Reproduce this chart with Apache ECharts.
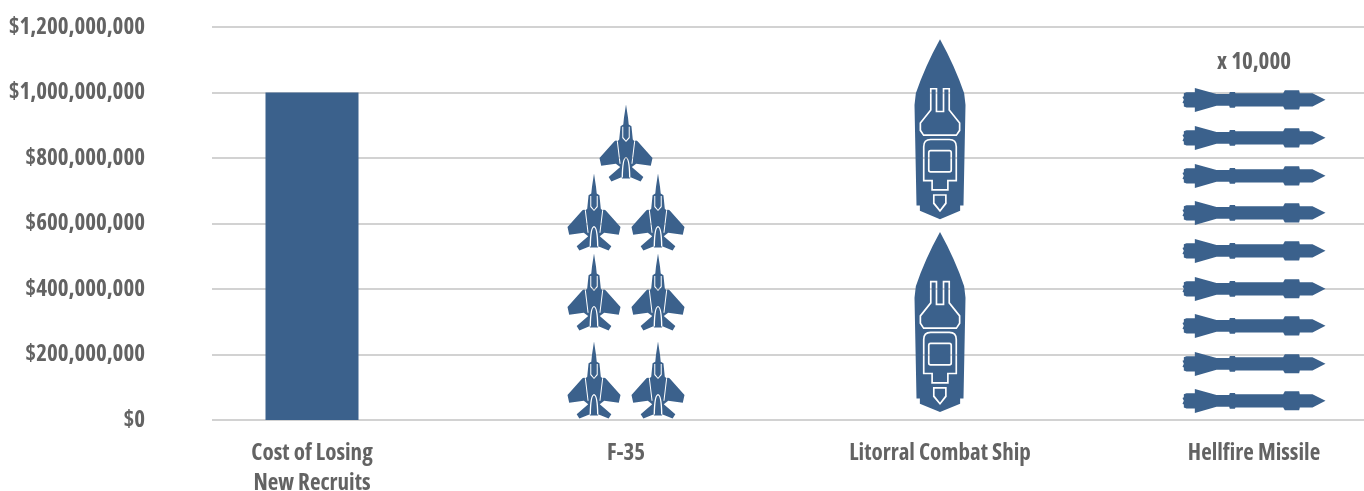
<!DOCTYPE html>
<html>
<head>
<meta charset="utf-8">
<style>html,body{margin:0;padding:0;background:#fff}#chart{width:1364px;height:491px}</style>
<script src="https://cdn.jsdelivr.net/npm/echarts@6/dist/echarts.min.js"></script>
</head>
<body>
<div id="chart"></div>
<script>
const categories = ['Cost of Losing\nNew Recruits', 'F-35', 'Litorral Combat Ship', 'Hellfire Missile'];
const yTicks = [0, 200000000, 400000000, 600000000, 800000000, 1000000000, 1200000000];
const recruitCost = [1000000000];
const f35PairRows = [122000000, 391000000, 635000000];
const f35Single = [846000000];
const shipRows = [299000000, 888000000];
const missileRows = [58000000, 171000000, 287000000, 400000000, 516000000, 632000000, 745000000, 861000000, 977000000];
const missileNote = 'x 10,000';
const missileNoteValue = 1093000000;

const BLUE = '#3b618c', GRID = '#d2d2d2', TEXT = '#636363';
const FONT = '"Open Sans"';
const textStyle = { color: TEXT, fontFamily: FONT, fontStyle: 'condensed', fontWeight: 'bold', fontSize: 23 };

const planePath = 'path://' +
  'M228 45L234 85L236 105L244 110L248 150L252 154L258 153L262 155L306 205L301 228L258 222L245 232L279 262L271 275L240 262L240 266L216 266L216 262L185 275L177 262L211 232L198 222L155 228L150 205L194 155L198 153L204 154L208 150L212 110L220 105L222 85Z' +
  'M217 112L217 145L228 157L239 145L239 112L236 112L236 143L228 153L220 143L220 112Z' +
  'M201 155L209 222L212 222L204 155Z' +
  'M252 155L244 222L247 222L255 155Z' +
  'M241 263Q240 203 228 202Q216 203 215 263L219 263Q220 207 228 206Q236 207 237 263Z';

const shipPath = 'path://' +
  'M150 28Q195 110 222 190L226 225L220 526L210 526L210 542L150 567L90 542L90 526L80 526L74 225L78 190Q105 110 150 28Z' +
  'M120 174L120 239L89 278L89 302L100 318L200 318L211 302L211 278L180 239L180 174L158 174L158 242L142 242L142 174Z' +
  'M125 179L137 179L137 247L163 247L163 179L175 179L175 241L206 280L206 300L198 313L102 313L94 300L94 280L125 241Z' +
  'M99 350L99 454L124 454L124 482L176 482L176 454L201 454L201 350Q201 326 178 326L122 326Q99 326 99 350Z' +
  'M104 350Q104 331 122 331L178 331Q196 331 196 350L196 449L171 449L171 477L129 477L129 449L104 449Z' +
  'M114 368L114 420Q114 428 122 428L178 428Q186 428 186 420L186 368Q186 359 178 359L122 359Q114 359 114 368Z' +
  'M119 368Q119 364 122 364L178 364Q181 364 181 368L181 420Q181 423 178 423L122 423Q119 423 119 420Z' +
  'M129 492L129 521L150 546L170 521L170 492Z' +
  'M134 497L165 497L165 518L150 538L134 518Z';

const missilePath = 'path://' +
  'M467 181L428 161L390 161L388 152L345 152L340 161L197 161L195 157L180 157L178 163L140 163L75 145L75 158L50 158L42 161L42 170L38 172L42 181L38 190L42 192L42 201L50 204L75 204L75 218L140 199L178 199L180 205L195 205L197 201L340 201L345 210L388 210L390 201L428 201Z';

const at = (index, values) => values.map(v => [index, v]);
const marks = (name, index, values, symbol, size, offset) => ({
  name, type: 'scatter', data: at(index, values), symbol,
  symbolSize: size, symbolOffset: offset, symbolKeepAspect: false,
  itemStyle: { color: BLUE, opacity: 1 }, silent: true, z: 3
});

const chart = echarts.init(document.getElementById('chart'), null, { renderer: 'canvas' });
chart.setOption({
  animation: false,
  backgroundColor: '#fff',
  grid: { left: 212, right: 0, top: 27, bottom: 71, containLabel: false, outerBoundsMode: 'none' },
  xAxis: {
    type: 'value',
    min: -100 / 314, max: 1052 / 314,
    splitLine: { show: false },
    axisLine: { show: false },
    axisTick: { show: false },
    axisLabel: Object.assign({
      customValues: categories.map((c, i) => i),
      formatter: v => categories[v],
      lineHeight: 30, margin: 18, hideOverlap: false,
      showMinLabel: true, showMaxLabel: true, verticalAlign: 'top'
    }, textStyle)
  },
  yAxis: {
    type: 'value', min: yTicks[0], max: yTicks[yTicks.length - 1], interval: yTicks[1] - yTicks[0],
    axisLine: { show: false }, axisTick: { show: false },
    splitLine: { lineStyle: { color: GRID, width: 2 } },
    axisLabel: Object.assign({
      formatter: v => '$' + v.toLocaleString('en-US'),
      margin: 67
    }, textStyle)
  },
  series: [
    { name: 'Cost of Losing New Recruits', type: 'bar', data: at(0, recruitCost), barWidth: 93,
      itemStyle: { color: BLUE }, silent: true, z: 3 },
    marks('F-35 left', 1, f35PairRows, planePath, [53, 77], [-32, 0]),
    marks('F-35 right', 1, f35PairRows, planePath, [53, 77], [32, 0]),
    marks('F-35 single', 1, f35Single, planePath, [53, 77], [0, 0]),
    marks('Litorral Combat Ship', 2, shipRows, shipPath, [51, 180], [0, 0]),
    marks('Hellfire Missile', 3, missileRows, missilePath, [143, 24], [0, 0]),
    { name: 'note', type: 'scatter', data: at(3, [missileNoteValue]), symbol: 'circle', symbolSize: 0,
      silent: true, itemStyle: { opacity: 1 },
      label: Object.assign({ show: true, position: 'inside', formatter: missileNote }, textStyle) }
  ]
});
</script>
</body>
</html>
